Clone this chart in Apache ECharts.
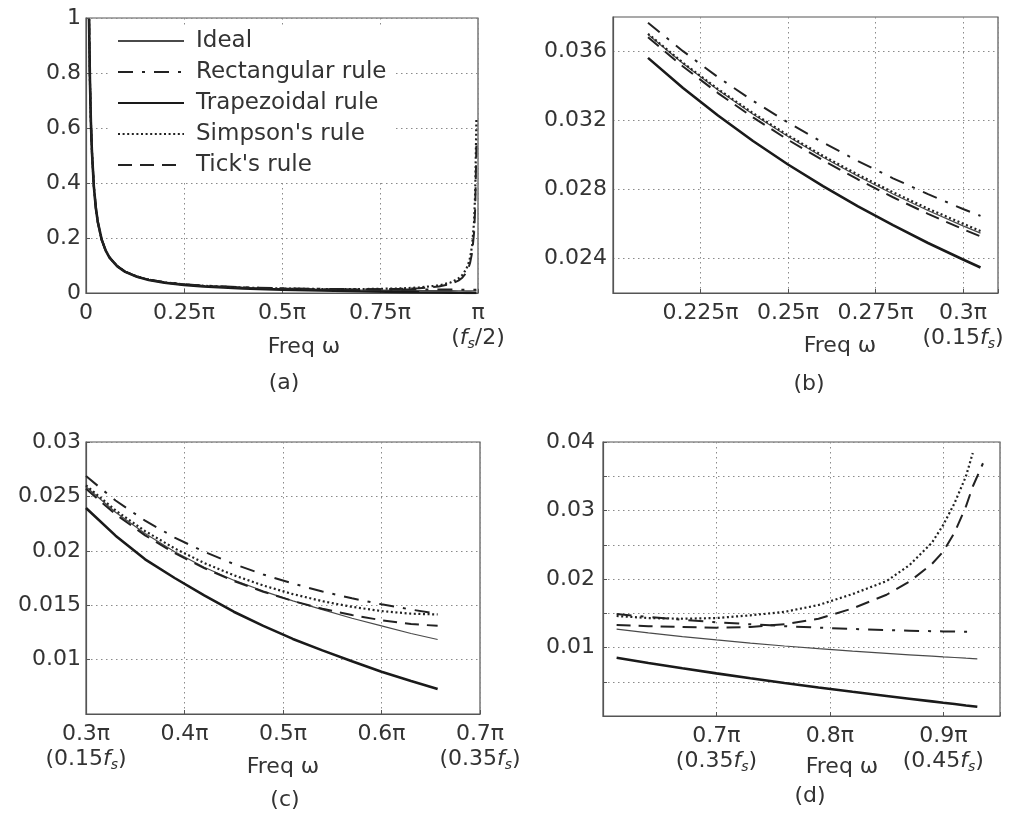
<!DOCTYPE html>
<html><head><meta charset="utf-8">
<script src="https://cdn.jsdelivr.net/npm/echarts@6/dist/echarts.min.js"></script>
<style>html,body{margin:0;padding:0;background:#fff}#c{width:1013px;height:816px}</style>
</head><body><div id="c"></div>
<script>
// ---------- data (frequencies in units of pi) ----------
const seriesNames = ['Ideal', 'Rectangular rule', 'Trapezoidal rule', "Simpson's rule", "Tick's rule"];

// Panel (a)
const freqA  = [0.0078, 0.01, 0.0125, 0.015, 0.02, 0.025, 0.03, 0.04, 0.05, 0.06, 0.08, 0.1, 0.13, 0.16, 0.2, 0.25, 0.3, 0.4, 0.5, 0.6, 0.7, 0.8, 0.85, 0.9, 0.93, 0.95, 0.96, 0.97, 0.975, 0.98, 0.985, 0.99, 0.993, 0.9959];
const idealA = [0.996, 0.777, 0.621, 0.518, 0.388, 0.311, 0.259, 0.194, 0.155, 0.129, 0.0971, 0.0777, 0.0597, 0.0485, 0.0388, 0.0311, 0.0259, 0.0194, 0.0155, 0.0129, 0.0111, 0.0097, 0.0091, 0.0086, 0.0084, 0.0082, 0.0081, 0.0080, 0.0080, 0.0079, 0.0079, 0.0078, 0.0078, 0.0078];
const rectA  = [0.996, 0.777, 0.621, 0.518, 0.388, 0.311, 0.259, 0.194, 0.156, 0.130, 0.0974, 0.0780, 0.0602, 0.0491, 0.0395, 0.0319, 0.0269, 0.0208, 0.0173, 0.0151, 0.0137, 0.0128, 0.0126, 0.0124, 0.0123, 0.0122, 0.0122, 0.0122, 0.0122, 0.0122, 0.0122, 0.0122, 0.0122, 0.0122];
const trapA  = [0.996, 0.777, 0.621, 0.518, 0.388, 0.311, 0.259, 0.194, 0.155, 0.129, 0.0968, 0.0770, 0.0589, 0.0475, 0.0375, 0.0295, 0.0239, 0.0168, 0.0122, 0.0089, 0.0062, 0.0040, 0.0029, 0.0019, 0.0014, 0.0010, 0.0008, 0.0006, 0.0005, 0.0004, 0.0003, 0.0002, 0.0001, 0.0001];
const simpA  = [0.996, 0.777, 0.621, 0.518, 0.388, 0.311, 0.259, 0.194, 0.155, 0.129, 0.0971, 0.0777, 0.0597, 0.0485, 0.0388, 0.0311, 0.0260, 0.0197, 0.0163, 0.0145, 0.0142, 0.0165, 0.0199, 0.0276, 0.0382, 0.0526, 0.0654, 0.0868, 0.1039, 0.1298, 0.1729, 0.2591, 0.370, 0.6315];
const tickA  = [0.996, 0.777, 0.621, 0.518, 0.388, 0.311, 0.259, 0.194, 0.155, 0.129, 0.0971, 0.0777, 0.0597, 0.0485, 0.0387, 0.0309, 0.0257, 0.0193, 0.0157, 0.0136, 0.0130, 0.0146, 0.0173, 0.0238, 0.0327, 0.0449, 0.0557, 0.0738, 0.0884, 0.1103, 0.1469, 0.2202, 0.3143, 0.5367];

// Panel (b)
const freqB  = [0.21, 0.22, 0.23, 0.24, 0.25, 0.26, 0.27, 0.28, 0.29, 0.30, 0.305];
const idealB = [0.03699, 0.03530, 0.03377, 0.03236, 0.03107, 0.02987, 0.02877, 0.02774, 0.02678, 0.02589, 0.02547];
const rectB  = [0.03767, 0.03602, 0.03451, 0.03314, 0.03188, 0.03072, 0.02965, 0.02865, 0.02773, 0.02687, 0.02647];
const trapB  = [0.03563, 0.03389, 0.03229, 0.03081, 0.02945, 0.02819, 0.02702, 0.02593, 0.02490, 0.02394, 0.02348];
const simpB  = [0.03703, 0.03535, 0.03382, 0.03243, 0.03114, 0.02995, 0.02886, 0.02784, 0.02689, 0.02602, 0.02560];
const tickB  = [0.03682, 0.03513, 0.03359, 0.03218, 0.03088, 0.02969, 0.02858, 0.02755, 0.02659, 0.02570, 0.02528];

// Panel (c)
const freqC  = [0.30, 0.33, 0.36, 0.39, 0.42, 0.45, 0.48, 0.51, 0.54, 0.57, 0.60, 0.63, 0.657];
const idealC = [0.02589, 0.02354, 0.02158, 0.01992, 0.01849, 0.01730, 0.01630, 0.01540, 0.01460, 0.01380, 0.01310, 0.01240, 0.01185];
const rectC  = [0.02687, 0.02462, 0.02277, 0.02122, 0.01991, 0.01879, 0.01782, 0.01699, 0.01626, 0.01563, 0.01508, 0.01460, 0.01421];
const trapC  = [0.02394, 0.02139, 0.01922, 0.01750, 0.01590, 0.01440, 0.01310, 0.01190, 0.01085, 0.00985, 0.00889, 0.00803, 0.00730];
const simpC  = [0.02602, 0.02371, 0.02181, 0.02022, 0.01888, 0.01776, 0.01681, 0.01602, 0.01537, 0.01485, 0.01446, 0.01422, 0.01415];
const tickC  = [0.02570, 0.02336, 0.02142, 0.01979, 0.01841, 0.01723, 0.01624, 0.01539, 0.01467, 0.01409, 0.01362, 0.01327, 0.01310];

// Panel (d)
const freqD  = [0.612, 0.64, 0.67, 0.70, 0.73, 0.76, 0.79, 0.82, 0.85, 0.87, 0.89, 0.90, 0.91, 0.92, 0.926, 0.93, 0.935];
const idealD = [0.01269, 0.01214, 0.01159, 0.01110, 0.01064, 0.01022, 0.00983, 0.00947, 0.00914, 0.00893, 0.00873, 0.00863, 0.00854, 0.00844, 0.00839, 0.00835, null];
const rectD  = [0.01488, 0.01445, 0.01405, 0.01369, 0.01339, 0.01312, 0.01290, 0.01270, 0.01255, 0.01246, 0.01238, 0.01235, 0.01232, 0.01230, 0.01228, null, null];
const trapD  = [0.00851, 0.00774, 0.00696, 0.00622, 0.00551, 0.00483, 0.00417, 0.00354, 0.00293, 0.00253, 0.00213, 0.00193, 0.00174, 0.00154, 0.00143, 0.00135, null];
const simpD  = [0.0146, 0.0143, 0.0142, 0.0143, 0.0147, 0.0152, 0.0162, 0.0178, 0.0197, 0.0220, 0.0253, 0.0279, 0.0311, 0.0350, 0.0384, null, null];
const tickD  = [0.0133, 0.0131, 0.0130, 0.0129, 0.0130, 0.0134, 0.0142, 0.0157, 0.0177, 0.0196, 0.0222, 0.0240, 0.0268, 0.0306, 0.0335, 0.0350, 0.0369];

// Tick positions and labels
const xTicksA = [0, 0.25, 0.5, 0.75, 1];
const xLabelsA = ['0', '0.25π', '0.5π', '0.75π', 'π\n{n|(}{i|f}{s|s}{n|/2)}'];
const yTicksA = [0, 0.2, 0.4, 0.6, 0.8, 1];
const yLabelsA = ['0', '0.2', '0.4', '0.6', '0.8', '1'];

const xTicksB = [0.225, 0.25, 0.275, 0.3];
const xLabelsB = ['0.225π', '0.25π', '0.275π', '0.3π\n{n|(0.15}{i|f}{s|s}{n|)}'];
const yTicksB = [0.024, 0.028, 0.032, 0.036];
const yLabelsB = ['0.024', '0.028', '0.032', '0.036'];

const xTicksC = [0.3, 0.4, 0.5, 0.6, 0.7];
const xLabelsC = ['0.3π\n{n|(0.15}{i|f}{s|s}{n|)}', '0.4π', '0.5π', '0.6π', '0.7π\n{n|(0.35}{i|f}{s|s}{n|)}'];
const yTicksC = [0.01, 0.015, 0.02, 0.025, 0.03];
const yLabelsC = ['0.01', '0.015', '0.02', '0.025', '0.03'];

const xTicksD = [0.7, 0.8, 0.9];
const xLabelsD = ['0.7π\n{n|(0.35}{i|f}{s|s}{n|)}', '0.8π', '0.9π\n{n|(0.45}{i|f}{s|s}{n|)}'];
const yTicksD = [0.01, 0.02, 0.03, 0.04];
const yLabelsD = ['0.01', '0.02', '0.03', '0.04'];

const axisTitle = 'Freq ω';
const panelCaptions = ['(a)', '(b)', '(c)', '(d)'];

// ---------- styling ----------
const FONT = 'DejaVu Sans';
const TXT = '#333';
const BORDER = '#555';
const styles = {
  'Ideal':            { color: '#4a4a4a', width: 1.2, type: 'solid', z: 3 },
  'Rectangular rule': { color: '#222',    width: 2.0, type: [15, 9, 3, 9], z: 4 },
  'Trapezoidal rule': { color: '#1a1a1a', width: 2.6, type: 'solid', z: 5 },
  "Simpson's rule":   { color: '#222',    width: 2.2, type: [2, 2.6], z: 6 },
  "Tick's rule":      { color: '#222',    width: 2.0, type: [14, 8], z: 7 }
};
const rich = {
  n: { fontSize: 22, fontFamily: FONT, color: TXT, lineHeight: 25 },
  i: { fontSize: 22, fontFamily: FONT, color: TXT, fontStyle: 'italic', lineHeight: 25 },
  s: { fontSize: 14, fontFamily: FONT, color: TXT, fontStyle: 'italic', lineHeight: 16, verticalAlign: 'bottom' }
};
const gridLine = { show: true, lineStyle: { color: '#8a8a8a', width: 1, type: [1.5, 3.5] } };

function labelFmt(ticks, labels) {
  return function (v) {
    for (let k = 0; k < ticks.length; k++) if (Math.abs(v - ticks[k]) < 1e-7) return labels[k];
    return '';
  };
}
function axisLabel(ticks, labels, margin) {
  return { show: true, margin: margin, fontSize: 22, fontFamily: FONT, color: TXT, lineHeight: 25,
    showMinLabel: true, showMaxLabel: true, rich: rich, formatter: labelFmt(ticks, labels) };
}
function xAxis(gi, min, max, interval, ticks, labels, split) {
  return { type: 'value', gridIndex: gi, min: min, max: max, interval: interval,
    axisLine: { show: true, onZero: false, lineStyle: { color: BORDER, width: 1.2 } },
    axisTick: { show: true, inside: true, length: 4, lineStyle: { color: BORDER } },
    axisLabel: axisLabel(ticks, labels, 8),
    splitLine: split || gridLine };
}
function yAxis(gi, min, max, interval, ticks, labels, margin, split, tick) {
  return { type: 'value', gridIndex: gi, min: min, max: max, interval: interval,
    axisLine: { show: true, onZero: false, lineStyle: { color: BORDER, width: 1.2 } },
    axisTick: { show: tick !== false, inside: true, length: 4, lineStyle: { color: BORDER } },
    axisLabel: axisLabel(ticks, labels, margin),
    splitLine: split || gridLine };
}
function pairs(xs, ys) {
  const out = [];
  xs.forEach((x, i) => { if (ys[i] !== null && ys[i] !== undefined) out.push([x, ys[i]]); });
  return out;
}
function mk(name, gi, xs, ys) {
  const st = styles[name];
  return { name: name, type: 'line', xAxisIndex: gi, yAxisIndex: gi, data: pairs(xs, ys),
    symbol: 'none', showSymbol: false, smooth: false, clip: true, z: st.z,
    lineStyle: { color: st.color, width: st.width, type: st.type }, itemStyle: { color: st.color },
    emphasis: { disabled: true }, animation: false };
}

const panels = [
  [freqA, [idealA, rectA, trapA, simpA, tickA]],
  [freqB, [idealB, rectB, trapB, simpB, tickB]],
  [freqC, [idealC, rectC, trapC, simpC, tickC]],
  [freqD, [idealD, rectD, trapD, simpD, tickD]]
];
const series = [];
panels.forEach((p, gi) => seriesNames.forEach((nm, k) => series.push(mk(nm, gi, p[0], p[1][k]))));

const gridBox = { show: true, borderColor: BORDER, borderWidth: 1.2, backgroundColor: 'transparent' };
const captionPos = [
  [304, 347, 284, 383],
  [840, 346, 809, 384],
  [283, 767, 285, 800],
  [842, 767, 810, 796]
];
const graphics = [];
captionPos.forEach((p, i) => {
  graphics.push({ type: 'text', x: p[0], y: p[1], style: { text: axisTitle, font: '22px "DejaVu Sans"', fill: TXT, align: 'center', verticalAlign: 'middle' } });
  graphics.push({ type: 'text', x: p[2], y: p[3], style: { text: panelCaptions[i], font: '22px "DejaVu Sans"', fill: TXT, align: 'center', verticalAlign: 'middle' } });
});

const option = {
  animation: false,
  backgroundColor: '#fff',
  grid: [
    Object.assign({ left: 86, top: 18, width: 392, height: 275 }, gridBox),
    Object.assign({ left: 613, top: 17, width: 385, height: 276 }, gridBox),
    Object.assign({ left: 86, top: 442, width: 394, height: 272 }, gridBox),
    Object.assign({ left: 603, top: 442, width: 397, height: 274 }, gridBox)
  ],
  xAxis: [
    xAxis(0, 0, 1, 0.25, xTicksA, xLabelsA),
    xAxis(1, 0.2, 0.31, 0.025, xTicksB, xLabelsB),
    xAxis(2, 0.3, 0.7, 0.1, xTicksC, xLabelsC),
    xAxis(3, 0.6, 0.95, 0.1, xTicksD, xLabelsD)
  ],
  yAxis: [
    yAxis(0, 0, 1, 0.2, yTicksA, yLabelsA, 5),
    yAxis(1, 0.022, 0.038, 0.002, yTicksB, yLabelsB, 6,
      { show: true, lineStyle: { color: ['rgba(0,0,0,0)', '#8a8a8a'], width: 1, type: [1.5, 3.5] } }, false),
    yAxis(2, 0.005, 0.03, 0.005, yTicksC, yLabelsC, 5),
    yAxis(3, 0, 0.04, 0.005, yTicksD, yLabelsD, 8)
  ],
  legend: {
    show: true, orient: 'vertical', left: 111, top: 25, data: seriesNames,
    itemWidth: 66, itemHeight: 14, itemGap: 7, selectedMode: false,
    backgroundColor: '#fff', padding: [4, 8, 4, 6],
    itemStyle: { opacity: 0 },
    textStyle: { fontSize: 23, fontFamily: FONT, color: TXT, lineHeight: 24, padding: [0, 0, 0, 7] }
  },
  graphic: graphics,
  series: series
};
const chart = echarts.init(document.getElementById('c'), null, { renderer: 'canvas' });
chart.setOption(option);
</script></body></html>
